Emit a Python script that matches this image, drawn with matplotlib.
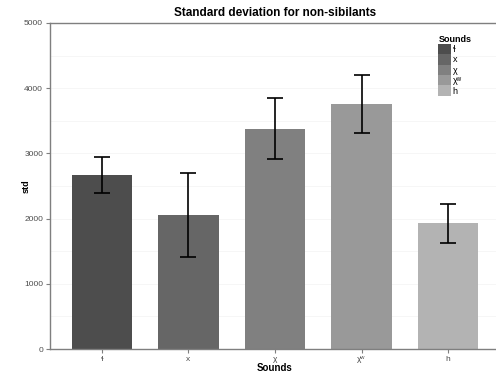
import matplotlib
matplotlib.use("Agg")
import matplotlib.pyplot as plt
from matplotlib.patches import Patch

plt.rcParams['font.family'] = ['Liberation Sans', 'DejaVu Sans']

sounds = ['ɬ', 'x', 'χ', 'χʷ', 'h']
std_mean = [2669, 2055, 3374, 3758, 1933]
err_low = [272, 650, 465, 450, 307]
err_high = [272, 640, 471, 449, 296]
colors = ['#4D4D4D', '#666666', '#808080', '#999999', '#B3B3B3']

fig = plt.figure(figsize=(4.96, 3.72), dpi=100)
ax = fig.add_axes([50 / 496, 1 - 349 / 372, 450 / 496, 326 / 372])

pos = list(range(len(sounds)))
ax.bar(pos, std_mean, width=0.7, color=colors, zorder=2)
ax.errorbar(pos, std_mean, yerr=[err_low, err_high], fmt='none',
            ecolor='black', elinewidth=1.2, capsize=6, capthick=1.2, zorder=3)

ax.set_xlim(-0.6, 4.6)
ax.set_ylim(0, 5000)
ax.set_yticks([0, 1000, 2000, 3000, 4000, 5000])
ax.set_yticks([500, 1500, 2500, 3500, 4500], minor=True)
ax.set_xticks(pos)
ax.set_xticklabels(sounds)
ax.grid(True, axis='y', which='both', color='#F5F5F5', linewidth=0.6, zorder=0)

for side in ['left', 'bottom', 'top']:
    ax.spines[side].set_color('#7F7F7F')
    ax.spines[side].set_linewidth(1.0)
ax.spines['right'].set_visible(False)
ax.tick_params(axis='both', which='major', labelsize=6, colors='#7F7F7F',
               labelcolor='#4D4D4D', length=3, width=0.8, pad=2)
ax.tick_params(axis='y', which='minor', length=0)

ax.set_title('Standard deviation for non-sibilants', fontsize=8.5,
             fontweight='bold', pad=5)
ax.set_xlabel('Sounds', fontsize=7, fontweight='bold', labelpad=0)
ax.set_ylabel('std', fontsize=6.5, fontweight='bold')
ax.yaxis.set_label_coords(-0.044, 0.5)

handles = [Patch(facecolor=c, edgecolor='none') for c in colors]
leg = ax.legend(handles, sounds, title='Sounds', loc='upper left',
                bbox_to_anchor=(0.855, 0.975), frameon=False, fontsize=6.5,
                title_fontproperties={'weight': 'bold', 'size': 6.5},
                handlelength=1.4, handleheight=1.4, handletextpad=0.2,
                labelspacing=0.0, borderaxespad=0)
leg._legend_box.align = 'left'

fig.savefig('out.png', dpi=100)
